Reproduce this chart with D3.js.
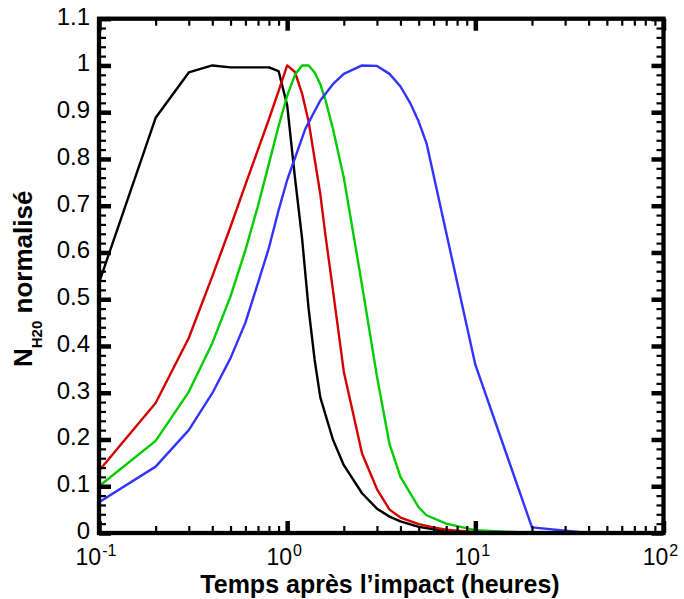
<!DOCTYPE html>
<html>
<head>
<meta charset="utf-8">
<script src="https://cdn.jsdelivr.net/npm/d3@7"></script>
<style>
  body { margin: 0; background: #fff; }
  text { font-family: "Liberation Sans", Arial, sans-serif; }
</style>
</head>
<body>
<script>
// time after impact (hours) and normalised N_H20 for each run
const blackT = [0.1, 0.2, 0.3, 0.4, 0.5, 0.6, 0.7, 0.8, 0.9, 1.0, 1.1, 1.2, 1.3, 1.4, 1.5, 1.75, 2, 2.5, 3, 3.5, 4, 5, 6, 7, 8, 10, 20];
const blackV = [0.535, 0.888, 0.985, 1.0, 0.996, 0.996, 0.996, 0.996, 0.988, 0.915, 0.76, 0.63, 0.48, 0.37, 0.29, 0.2, 0.145, 0.085, 0.052, 0.035, 0.025, 0.013, 0.008, 0.005, 0.003, 0.001, 0];

const redT = [0.1, 0.2, 0.3, 0.4, 0.5, 0.6, 0.7, 0.8, 0.9, 1.0, 1.1, 1.2, 1.3, 1.4, 1.5, 1.6, 1.75, 2, 2.5, 3, 3.5, 4, 5, 6, 7, 8, 10, 20];
const redV = [0.133, 0.278, 0.417, 0.549, 0.655, 0.745, 0.82, 0.885, 0.945, 1.0, 0.986, 0.94, 0.88, 0.8, 0.725, 0.635, 0.52, 0.345, 0.17, 0.094, 0.05, 0.033, 0.019, 0.012, 0.007, 0.005, 0.002, 0];

const greenT = [0.1, 0.2, 0.3, 0.4, 0.5, 0.6, 0.7, 0.8, 0.9, 1.0, 1.1, 1.2, 1.3, 1.4, 1.5, 1.6, 1.75, 2, 2.5, 3, 3.5, 4, 5, 5.5, 7, 10, 20];
const greenV = [0.1, 0.197, 0.302, 0.406, 0.506, 0.605, 0.70, 0.79, 0.87, 0.935, 0.98, 1.0, 1.0, 0.985, 0.96, 0.925, 0.865, 0.76, 0.53, 0.335, 0.19, 0.12, 0.055, 0.038, 0.02, 0.006, 0];

const blueT = [0.1, 0.2, 0.3, 0.4, 0.5, 0.6, 0.7, 0.8, 0.9, 1.0, 1.25, 1.5, 1.75, 2, 2.5, 3, 3.5, 4, 4.5, 5, 5.5, 10, 20, 40];
const blueV = [0.066, 0.142, 0.22, 0.299, 0.374, 0.45, 0.535, 0.61, 0.69, 0.755, 0.865, 0.925, 0.96, 0.982, 1.0, 0.999, 0.982, 0.955, 0.92, 0.88, 0.834, 0.36, 0.012, 0];

const seriesColors = ['#000000', '#d40000', '#00cc00', '#3333ff'];
const yTicks = [0, 0.1, 0.2, 0.3, 0.4, 0.5, 0.6, 0.7, 0.8, 0.9, 1, 1.1];
const xDecades = [0.1, 1, 10, 100];

const series = [
  { t: blackT, v: blackV },
  { t: redT, v: redV },
  { t: greenT, v: greenV },
  { t: blueT, v: blueV }
];

const W = 684, H = 599;
const pLeft = 99, pRight = 663.5, pTop = 18.7, pBottom = 533;

const svg = d3.select('body').append('svg')
    .attr('width', W)
    .attr('height', H);

const x = d3.scaleLog().domain([0.1, 100]).range([pLeft, pRight]);
const y = d3.scaleLinear().domain([0, 1.1]).range([pBottom, pTop]);

// minor tick values
const xMinor = [];
[0.1, 1, 10].forEach(d => { for (let k = 2; k <= 9; k++) xMinor.push(d * k); });
const yMinor = d3.range(0, 55).map(i => i * 0.02).filter(d => Math.round(d * 100) % 10 !== 0);

// curves
const line = d3.line()
    .x(d => x(d[0]))
    .y(d => y(d[1]));

svg.append('g').selectAll('path')
    .data(series)
    .enter()
  .append('path')
    .attr('d', s => line(s.t.map((t, i) => [t, s.v[i]])))
    .attr('fill', 'none')
    .attr('stroke', (s, i) => seriesColors[i])
    .attr('stroke-width', 2.4)
    .attr('stroke-linejoin', 'round');

// ticks (all pointing inward)
function ticks(axis, pos, values, size, width) {
  const g = svg.append('g')
      .attr('transform', pos)
      .call(axis.tickValues(values).tickSize(-size).tickFormat(''));
  g.select('.domain').remove();
  g.selectAll('line').attr('stroke', '#000').attr('stroke-width', width);
  return g;
}

ticks(d3.axisLeft(y), `translate(${pLeft},0)`, yMinor, 7, 2.2);
ticks(d3.axisLeft(y), `translate(${pLeft},0)`, yTicks, 12, 4.5);
ticks(d3.axisRight(y), `translate(${pRight},0)`, yMinor, 7, 2.2);
ticks(d3.axisRight(y), `translate(${pRight},0)`, yTicks, 12, 4.5);
ticks(d3.axisBottom(x), `translate(0,${pBottom})`, xMinor, 7, 2.2);
ticks(d3.axisBottom(x), `translate(0,${pBottom})`, xDecades, 12, 4.5);
ticks(d3.axisTop(x), `translate(0,${pTop})`, xMinor, 7, 2.2);
ticks(d3.axisTop(x), `translate(0,${pTop})`, xDecades, 12, 4.5);

// frame
svg.append('rect')
    .attr('x', pLeft)
    .attr('y', pTop)
    .attr('width', pRight - pLeft)
    .attr('height', pBottom - pTop)
    .attr('fill', 'none')
    .attr('stroke', '#000')
    .attr('stroke-width', 4.3);

// y tick labels
svg.append('g').selectAll('text')
    .data(yTicks)
    .enter()
  .append('text')
    .attr('x', 90)
    .attr('y', d => y(d))
    .attr('dy', '0.25em')
    .attr('text-anchor', 'end')
    .style('font-size', '24px')
    .text(d => d3.format('~g')(d));

// x tick labels 10^n : base and exponent as separate texts, centred together on the tick
const xl = svg.append('g').selectAll('g')
    .data(xDecades)
    .enter()
  .append('g');
xl.append('text')
    .attr('y', 565)
    .style('font-size', '23px')
    .text('10');
xl.append('text')
    .attr('y', 556)
    .style('font-size', '16px')
    .text(d => Math.round(Math.log10(d)));
xl.each(function(d) {
  const nodes = d3.select(this).selectAll('text').nodes();
  const wb = nodes[0].getComputedTextLength();
  const we = nodes[1].getComputedTextLength();
  const start = x(d) - 3 - (wb + we + 1) / 2;
  nodes[0].setAttribute('x', start);
  nodes[1].setAttribute('x', start + wb + 1);
});

// axis titles
svg.append('text')
    .attr('x', 380)
    .attr('y', 593)
    .attr('text-anchor', 'middle')
    .style('font-size', '25px')
    .style('font-weight', 'bold')
    .text('Temps après l’impact (heures)');

const yt = svg.append('text')
    .attr('transform', 'translate(32,367) rotate(-90)')
    .style('font-size', '26px')
    .style('font-weight', 'bold');
yt.append('tspan').text('N');
yt.append('tspan')
    .attr('dy', 10)
    .style('font-size', '15px')
    .text('H20');
yt.append('tspan')
    .attr('dy', -10)
    .text(' normalisé');
</script>
</body>
</html>
